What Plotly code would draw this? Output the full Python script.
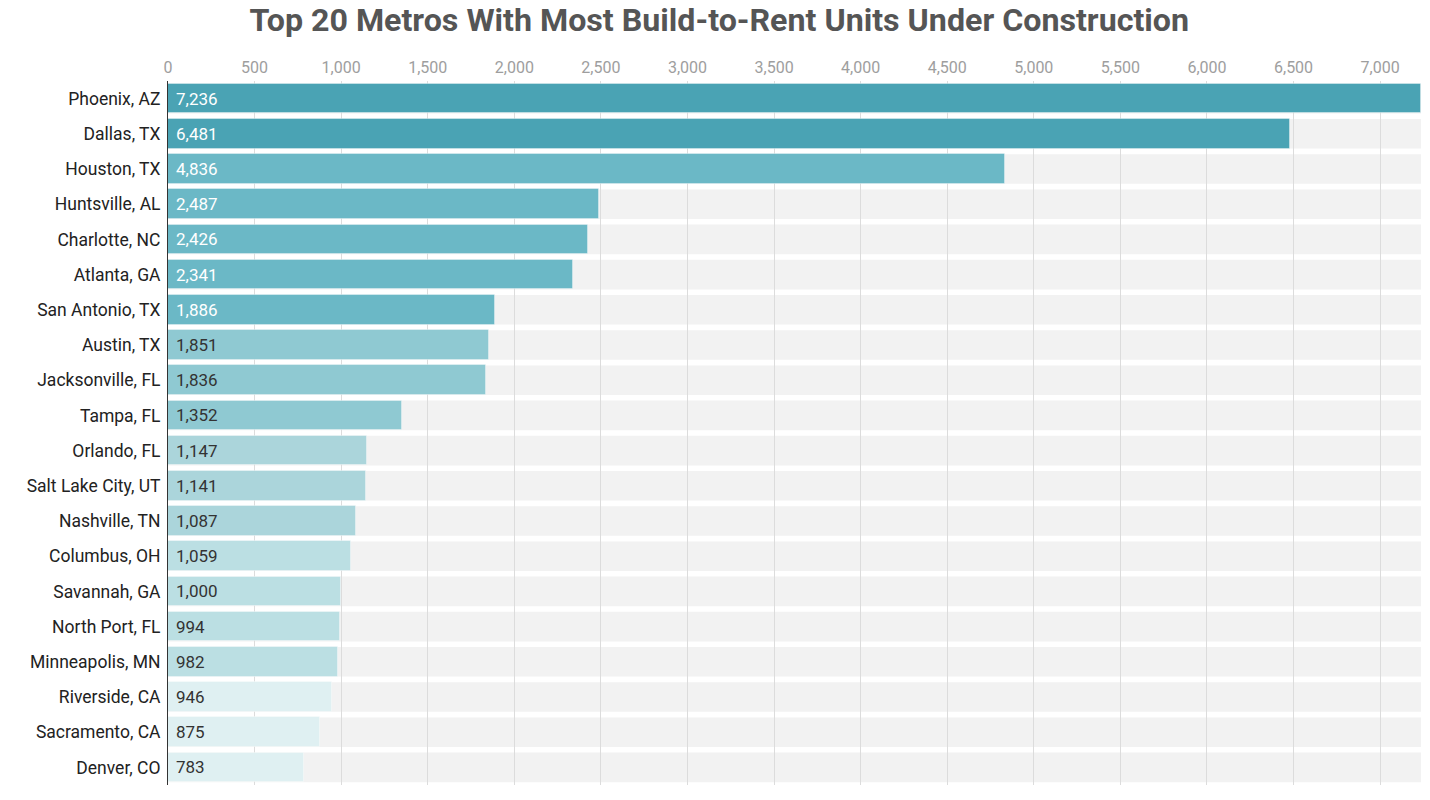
import plotly.graph_objects as go

metros = ["Phoenix, AZ", "Dallas, TX", "Houston, TX", "Huntsville, AL", "Charlotte, NC",
          "Atlanta, GA", "San Antonio, TX", "Austin, TX", "Jacksonville, FL", "Tampa, FL",
          "Orlando, FL", "Salt Lake City, UT", "Nashville, TN", "Columbus, OH", "Savannah, GA",
          "North Port, FL", "Minneapolis, MN", "Riverside, CA", "Sacramento, CA", "Denver, CO"]
units = [7236, 6481, 4836, 2487, 2426, 2341, 1886, 1851, 1836, 1352,
         1147, 1141, 1087, 1059, 1000, 994, 982, 946, 875, 783]
bar_colors = ["#4aa3b4", "#4aa3b4",
              "#6bb8c6", "#6bb8c6", "#6bb8c6", "#6bb8c6", "#6bb8c6",
              "#8fc9d2", "#8fc9d2", "#8fc9d2",
              "#abd5db", "#abd5db", "#abd5db",
              "#bbdfe3", "#bbdfe3", "#bbdfe3", "#bbdfe3",
              "#dff0f2", "#dff0f2", "#dff0f2"]
label_colors = ["#ffffff"] * 7 + ["#333333"] * 13
tick_vals = list(range(0, 7001, 500))

FONT = "Roboto"
BAND = 0.84

fig = go.Figure()
fig.add_trace(go.Bar(
    x=units, y=metros, orientation="h",
    marker=dict(color=bar_colors, line=dict(width=1, color="rgba(255,255,255,0.35)")),
    width=BAND, hoverinfo="x+y", showlegend=False,
))

shapes = []
annotations = []
for i, (m, v) in enumerate(zip(metros, units)):
    shapes.append(dict(type="rect", layer="below", xref="x domain", yref="y",
                       x0=0, x1=1, y0=i - BAND / 2, y1=i + BAND / 2,
                       fillcolor="#f2f2f2", line=dict(width=0)))
    annotations.append(dict(x=0, y=m, xref="x", yref="y", text=f"{v:,}",
                            showarrow=False, xanchor="left", xshift=6,
                            font=dict(family=FONT, size=17, color=label_colors[i])))

fig.update_layout(
    width=1430, height=800,
    margin=dict(l=168, r=9, t=81, b=15),
    paper_bgcolor="white", plot_bgcolor="white",
    title=dict(text="<b>Top 20 Metros With Most Build-to-Rent Units Under Construction</b>",
               x=0.503, xanchor="center", y=0.975, yanchor="middle",
               font=dict(family=FONT, size=32.2, color="#555555")),
    font=dict(family=FONT),
    shapes=shapes, annotations=annotations, bargap=0,
)
fig.update_xaxes(side="top", range=[0, max(units)], tickvals=tick_vals, tickformat=",",
                 showgrid=True, gridcolor="#dcdcdc", gridwidth=1, zeroline=False,
                 ticks="", ticklabelstandoff=4, automargin=False,
                 tickfont=dict(family=FONT, size=16, color="#9e9e9e"),
                 showline=False, fixedrange=True)
fig.update_yaxes(categoryorder="array", categoryarray=metros, autorange="reversed",
                 showgrid=False, showline=True, linecolor="#333333", linewidth=1,
                 layer="above traces", ticks="", ticklabelstandoff=3, automargin=False,
                 tickfont=dict(family=FONT, size=17.5, color="#222222"), fixedrange=True)

fig.write_html("out.html", config={"displayModeBar": False},
               post_script="document.body.style.margin='0';document.body.style.overflow='hidden';")
